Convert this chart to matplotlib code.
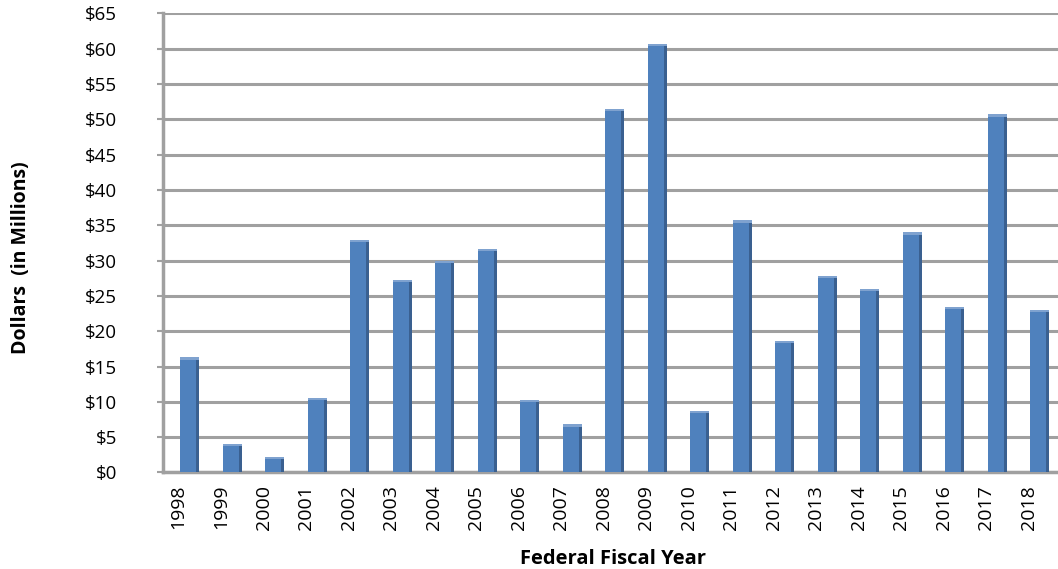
import numpy as np
import matplotlib.pyplot as plt

# data
years = ['1998', '1999', '2000', '2001', '2002', '2003', '2004', '2005', '2006', '2007',
         '2008', '2009', '2010', '2011', '2012', '2013', '2014', '2015', '2016', '2017', '2018']
dollars = [16.3, 4.0, 2.2, 10.6, 32.9, 27.3, 30.0, 31.7, 10.3, 6.8,
           51.5, 60.7, 8.7, 35.7, 18.6, 27.8, 26.0, 34.0, 23.5, 50.7, 23.0]
yticks = list(range(0, 70, 5))

plt.rcParams['font.family'] = ['Open Sans', 'DejaVu Sans']

fig = plt.figure(figsize=(10.58, 5.69), dpi=100)
ax = fig.add_axes([0.154, 0.1696, 0.85, 0.8067])

x = np.arange(len(years))
w = 0.45
# main bar face
ax.bar(x, dollars, width=w, color='#4F81BD', edgecolor='none', zorder=3)
# darker right side to mimic the excel bevel
ax.bar(x + w / 2, dollars, width=-0.07, align='edge', color='#3A6090',
       edgecolor='none', zorder=4)
# light top rim
ax.bar(x, [0.3] * len(x), bottom=np.array(dollars) - 0.3, width=w,
       color='#7FA2CF', edgecolor='none', zorder=4)

ax.set_ylim(0, 65)
ax.set_xlim(-0.63, 20.53)
ax.set_yticks(yticks)
ax.set_yticklabels(['$%d' % v for v in yticks], fontsize=13.5)
ax.set_xticks(x - 0.26)
ax.set_xticklabels(years, rotation=90, fontsize=14)

ax.yaxis.grid(True, color='#A0A0A0', linewidth=2.2, zorder=0)
ax.set_axisbelow(True)
for s in ['top', 'right']:
    ax.spines[s].set_visible(False)
ax.spines['left'].set_color('#A0A0A0')
ax.spines['left'].set_linewidth(2.5)
ax.spines['bottom'].set_color('#A0A0A0')
ax.spines['bottom'].set_linewidth(2.5)
ax.tick_params(axis='y', length=4, width=1.5, color='#A0A0A0', pad=29)
ax.tick_params(axis='x', length=0, pad=9)

ax.set_xlabel('Federal Fiscal Year', fontsize=14.5, fontweight='bold', labelpad=14)
fig.text(0.02, 0.547, 'Dollars  (in Millions)', rotation=90, fontsize=14,
         fontweight='bold', ha='center', va='center')

plt.savefig('out.png')
